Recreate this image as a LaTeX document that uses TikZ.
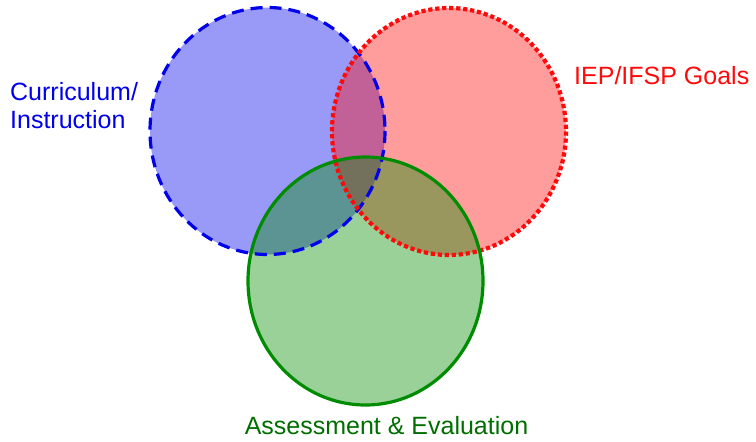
\documentclass[tikz,border=0pt]{standalone}
\usepackage{fontspec}
\setmainfont{Liberation Sans}
\begin{document}
\begin{tikzpicture}[x=1pt,y=-1pt,
  lbl/.style={font=\fontsize{25}{28}\selectfont, align=left, inner sep=0pt},
  fillop/.style={fill opacity=0.4}]
\definecolor{cblue}{RGB}{0,0,235}
\definecolor{cred}{RGB}{255,10,10}
\definecolor{cgreen}{RGB}{0,140,0}
\definecolor{tgreen}{RGB}{0,110,0}
\useasboundingbox (0,0) rectangle (756,442);
% fills
\fill[cblue, fillop] (267.5,131) ellipse [x radius=117.5, y radius=123.5];
\fill[cred, fillop] (449,131.5) ellipse [x radius=117, y radius=123.5];
\fill[cgreen, fillop] (365.5,281) ellipse [x radius=117.5, y radius=124];
% outlines
\draw[cblue, line width=3.2pt, dash pattern=on 12pt off 7pt] (267.5,131) ellipse [x radius=117.5, y radius=123.5];
\draw[cred, line width=4.2pt, dash pattern=on 4.2pt off 2.8pt] (449,131.5) ellipse [x radius=117, y radius=123.5];
\draw[cgreen, line width=3.2pt] (365.5,281) ellipse [x radius=117.5, y radius=124];
% labels
\node[lbl, text=cblue, anchor=north west] (cur) at (10,82) {Curriculum/\\Instruction};
\node[lbl, text=cred, anchor=west] (iep) at (574,76) {IEP/IFSP Goals};
\node[lbl, text=tgreen, anchor=center] (ass) at (386.5,426) {Assessment \& Evaluation};
\end{tikzpicture}
\end{document}
